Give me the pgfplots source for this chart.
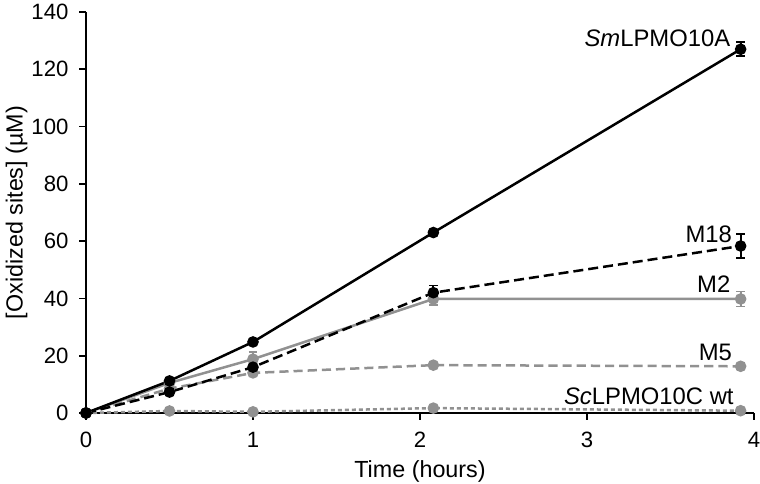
\documentclass[border=0pt]{standalone}
\usepackage{pgfplots}
\pgfplotsset{compat=1.18}
\usepackage{fontspec}
\setmainfont{Liberation Sans}
\definecolor{gr}{RGB}{145,145,145}
\begin{document}
\begin{tikzpicture}
\begin{axis}[
  scale only axis, width=400.8pt, height=240.6pt,
  xmin=0, xmax=4, ymin=0, ymax=140,
  axis lines=left, axis line style={line width=1.1pt, -},
  tick align=outside, tick style={line width=1.1pt, black}, major tick length=4pt,
  xtick={0,1,2,3,4}, ytick={0,20,...,140},
  font=\fontsize{13.3pt}{15pt}\selectfont,
  /pgf/number format/assume math mode=true,
  xticklabel style={yshift=-4pt},
  yticklabel style={xshift=-3pt},
  xlabel={Time (hours)}, ylabel={[Oxidized sites] (µM)},
  xlabel style={yshift=-1pt, font=\fontsize{14pt}{16pt}\selectfont},
  ylabel style={yshift=-4.5pt, font=\fontsize{14pt}{16pt}\selectfont},
  clip=false,
  every axis plot/.append style={line width=1.5pt},
  error bars/error bar style={line width=1.1pt, solid},
  error bars/error mark options={rotate=90, mark size=2.6pt, line width=1.1pt},
]
% ScLPMO10C wt
\addplot[gr, dash pattern=on 2.4pt off 1.8pt, mark=*, mark size=2.7pt, mark options={solid, fill=gr, draw=gr}]
  coordinates {(0,0) (0.5,0.7) (1,0.4) (2.08,1.7) (3.92,0.8)};
% M5
\addplot[gr, dash pattern=on 5.5pt off 3pt, mark=*, mark size=2.7pt, mark options={solid, fill=gr, draw=gr}]
  coordinates {(0,0) (0.5,8.5) (1,14) (2.08,16.7) (3.92,16.3)};
% M2
\addplot[gr, mark=*, mark size=2.7pt, mark options={solid, fill=gr, draw=gr},
  error bars/.cd, y dir=both, y explicit]
  coordinates {(0,0) (0.5,10.5) (1,18.8) +- (0,2.5) (2.08,39.8) +- (0,2) (3.92,39.8) +- (0,2.6)};
% M18
\addplot[black, dash pattern=on 6pt off 3pt, mark=*, mark size=2.7pt, mark options={solid, fill=black},
  error bars/.cd, y dir=both, y explicit]
  coordinates {(0,0) (0.5,7.3) (1,16) (2.08,42) +- (0,2.5) (3.92,58.3) +- (0,4.3)};
% SmLPMO10A
\addplot[black, mark=*, mark size=2.7pt, mark options={solid, fill=black},
  error bars/.cd, y dir=both, y explicit]
  coordinates {(0,0) (0.5,11.2) (1,24.8) (2.08,63) +- (0,0.8) (3.92,127) +- (0,2.5)};
\begin{scope}[every node/.style={anchor=base east, inner sep=0pt, font=\fontsize{14.3pt}{16pt}\selectfont}]
\node at (axis cs:3.86,127.8) {\textit{Sm}LPMO10A};
\node at (axis cs:3.87,59.4) {M18};
\node at (axis cs:3.86,41.9) {M2};
\node at (axis cs:3.87,18.5) {M5};
\node at (axis cs:3.88,2.8) {\textit{Sc}LPMO10C wt};
\end{scope}
\end{axis}
\pgfresetboundingbox
\useasboundingbox ([shift={(-51.6pt,-42.6pt)}]current axis.south west) rectangle ([shift={(3.6pt,7.2pt)}]current axis.north east);
\end{tikzpicture}
\end{document}
